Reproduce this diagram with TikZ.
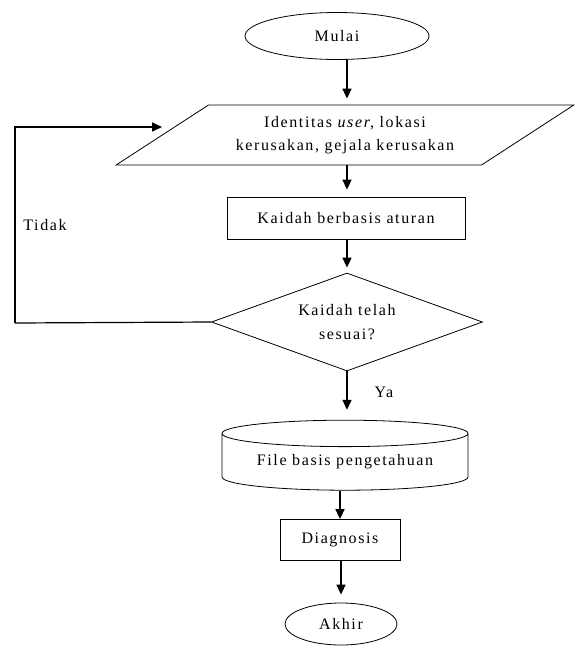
\documentclass[tikz,border=0pt]{standalone}
\usepackage{fontspec}
\setmainfont{Liberation Serif}[LetterSpace=10]
\usetikzlibrary{arrows.meta}
\usetikzlibrary{shapes.geometric}

\begin{document}
\begin{tikzpicture}[x=1pt, y=-1pt,
  every node/.style={font=\fontsize{16}{23.5}\selectfont, inner sep=0pt, align=center},
  terminal/.style={ellipse, draw, line width=0.8pt},
  inputbox/.style={trapezium, draw, line width=0.8pt, trapezium left angle=33, trapezium right angle=147},
  process/.style={rectangle, draw, line width=0.8pt},
  decision/.style={diamond, draw, line width=0.8pt, aspect=2.77},
  database/.style={cylinder, shape border rotate=90, draw, line width=0.8pt},
  arr/.style={line width=1.6pt, -{Triangle[length=10pt, width=9pt]}}]
  \useasboundingbox (0,0) rectangle (574,646);

  \node[terminal, minimum width=184, minimum height=47] (mulai) at (337,36) {Mulai};
  \node[inputbox] (input) at (345,135) {\phantom{\rule{273pt}{60pt}}};
  \node (inputteks) at (input.center) {Identitas \textit{user}, lokasi\\kerusakan, gejala kerusakan};
  \node[process, minimum width=238, minimum height=42] (aturan) at (346,218) {Kaidah berbasis aturan};
  \node[decision, minimum width=271, minimum height=98] (cek) at (347,322) {Kaidah telah\\sesuai?};
  \node[database, aspect=0.15, minimum width=246, minimum height=70] (basis) at (345,462) {File basis pengetahuan};
  \node[process, minimum width=120, minimum height=41] (diag) at (340,540) {Diagnosis};
  \node[terminal, minimum width=112, minimum height=42] (akhir) at (341,624) {Akhir};

  \coordinate (kiribawah) at (15,323);
  \coordinate (kembali) at (162,127);

  \draw[arr, shorten >=6pt] (mulai.south -| cek.north) -- (input.north -| cek.north);
  \draw[arr, shorten >=7pt] (input.south -| cek.north) -- (aturan.north -| cek.north);
  \draw[arr, shorten >=5pt] (aturan.south -| cek.north) -- (cek.north);
  \draw[arr, shorten >=10pt] (cek.south) -- (basis.north -| cek.south);
  \draw[arr] (basis.south -| diag.north) -- (diag.north);
  \draw[arr, shorten >=8pt] (diag.south -| akhir.north) -- (akhir.north);

  \draw[line width=1.2pt] (cek.west) -- (kiribawah);
  \draw[arr] (kiribawah) |- (kembali);

  \node (ya) at (384,392) {Ya};
  \node (tidak) at (45,225) {Tidak};
\end{tikzpicture}
\end{document}
